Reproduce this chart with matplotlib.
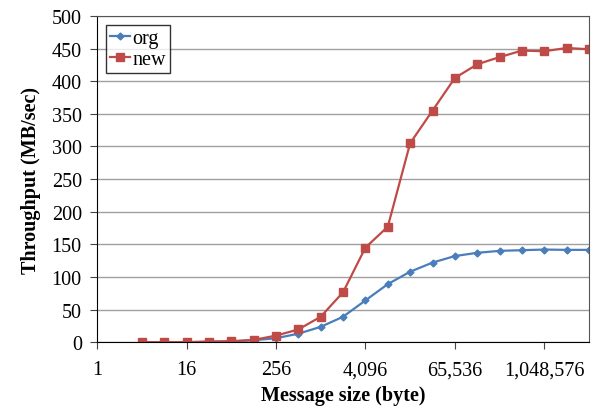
import matplotlib.pyplot as plt
import numpy as np

plt.rcParams['font.family'] = ['Liberation Serif', 'DejaVu Serif']

sizes = [2 ** k for k in range(2, 23)]
org = [0, 0, 0, 0.5, 1, 3, 6, 13, 23.5, 39, 64, 89, 108, 122, 132, 137, 140, 141, 142, 141.5, 141.5]
new = [0, 0, 0, 1, 1.5, 3.5, 10, 19.5, 39, 76.5, 145, 177, 305, 355, 405, 426, 437, 447, 446, 451, 449]
xticks = [1, 16, 256, 4096, 65536, 1048576]

fig = plt.figure(figsize=(5.92, 4.1), dpi=100)
ax = fig.add_axes([0.164, 0.163, 0.831, 0.7955])

ax.plot(sizes, org, color='#4A7EBB', marker='D', markersize=3.5, lw=1.6, label='org')
ax.plot(sizes, new, color='#BE4B48', marker='s', markersize=5.5, lw=1.6, label='new')

ax.set_xscale('log', base=2)
ax.set_xlim(1, 2 ** 22)
ax.set_ylim(0, 500)
ax.set_xticks(xticks)
ax.set_xticklabels(['{:,}'.format(v) for v in xticks])
ax.minorticks_off()
ax.set_yticks(np.arange(0, 501, 50))
ax.yaxis.grid(True, color='#a0a0a0', lw=1.0)
ax.set_axisbelow(True)

for s in ['top', 'right']:
    ax.spines[s].set_color('#555555')
ax.tick_params(labelsize=14.5, length=5, color='#444444')
ax.tick_params(axis='x', pad=8)
ax.tick_params(axis='y', pad=6)

ax.set_xlabel('Message size (byte)', fontsize=14.5, fontweight='bold', labelpad=4)
ax.set_ylabel('Throughput (MB/sec)', fontsize=14.5, fontweight='bold', labelpad=8)

leg = ax.legend(loc='upper left', fontsize=14.5, frameon=True, fancybox=False,
                handlelength=1.0, handletextpad=0.1, borderpad=0.2,
                labelspacing=0.1, borderaxespad=0.45)
leg.get_frame().set_edgecolor('black')
leg.get_frame().set_linewidth(1.0)

fig.savefig('out.png', dpi=100)
